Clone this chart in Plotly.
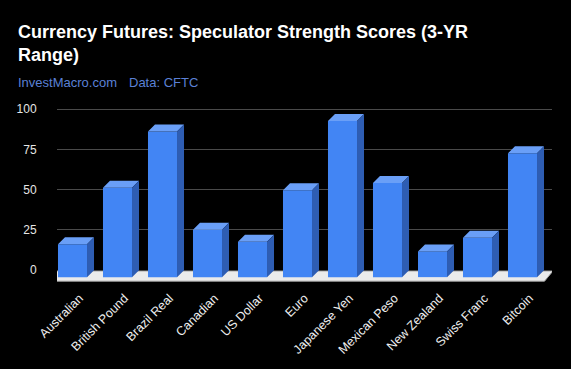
import plotly.graph_objects as go

categories = ["Australian", "British Pound", "Brazil Real", "Canadian", "US Dollar", "Euro",
              "Japanese Yen", "Mexican Peso", "New Zealand", "Swiss Franc", "Bitcoin"]
scores = [20.5, 55.5, 90.5, 29.5, 22, 54, 97, 58.5, 16, 24.5, 77]
y_ticks = [0, 25, 50, 75, 100]

W, H = 571, 369
ML, MR, MT, MB = 57, 19, 106, 86
Y_RANGE = [-8, 102]
X_RANGE = [-0.5, len(categories) - 0.5]
plot_w = W - ML - MR
plot_h = H - MT - MB
px_per_cat = plot_w / (X_RANGE[1] - X_RANGE[0])
px_per_unit = plot_h / (Y_RANGE[1] - Y_RANGE[0])

# 3D depth offsets (in data units)
depth_px = 7
dx = depth_px / px_per_cat
dy = depth_px / px_per_unit
bw = 0.645

FRONT = "#4285f4"
TOP = "#6a9ff7"
SIDE = "#2e5db3"

idx = list(range(len(categories)))

fig = go.Figure()

# front faces
fig.add_trace(go.Bar(
    x=idx, y=scores, base=-dy, width=bw, offset=-bw / 2 - dx,
    marker=dict(color=FRONT, line=dict(width=0)), hoverinfo="skip", showlegend=False,
))

# top faces and side faces
tx, ty, sx, sy = [], [], [], []
for c, v in zip(idx, scores):
    l, r = c - bw / 2, c + bw / 2
    tx += [l - dx, r - dx, r, l, l - dx, None]
    ty += [v - dy, v - dy, v, v, v - dy, None]
    sx += [r - dx, r, r, r - dx, r - dx, None]
    sy += [v - dy, v, 0, -dy, v - dy, None]
fig.add_trace(go.Scatter(x=tx, y=ty, mode="lines", fill="toself", fillcolor=TOP,
                         line=dict(width=0, color=TOP), hoverinfo="skip", showlegend=False))
fig.add_trace(go.Scatter(x=sx, y=sy, mode="lines", fill="toself", fillcolor=SIDE,
                         line=dict(width=0, color=SIDE), hoverinfo="skip", showlegend=False))

# floor slab
fdx = 8.5 / px_per_cat
fy_back = -0.5
fy_front = -6.9
xl = X_RANGE[0] - 2 / px_per_cat
xr = X_RANGE[1] + 1 / px_per_cat
floor_path = (f"M {xl} {fy_back} L {xr} {fy_back} L {xr - fdx} {fy_front} "
              f"L {xl - fdx} {fy_front} Z")
fig.add_shape(type="path", path=floor_path, xref="x", yref="y", layer="below",
              fillcolor="#ebebeb", line=dict(color="#9a9a9a", width=1))

def px_to_paper_x(p):
    return (p - ML) / plot_w

def px_to_paper_y(p):
    return (H - MB - p) / plot_h

fig.add_annotation(
    text="<b>Currency Futures: Speculator Strength Scores (3-YR<br>Range)</b>",
    xref="paper", yref="paper", x=px_to_paper_x(16), y=px_to_paper_y(20),
    xanchor="left", yanchor="top", align="left", showarrow=False,
    font=dict(family="Liberation Sans, Arial, sans-serif", size=18, color="#ffffff"),
)
fig.add_annotation(
    text="InvestMacro.com", xref="paper", yref="paper",
    x=px_to_paper_x(16), y=px_to_paper_y(73), xanchor="left", yanchor="top",
    showarrow=False,
    font=dict(family="Liberation Sans, Arial, sans-serif", size=13, color="#5b80d6"),
)
fig.add_annotation(
    text="Data: CFTC", xref="paper", yref="paper",
    x=px_to_paper_x(127), y=px_to_paper_y(73), xanchor="left", yanchor="top",
    showarrow=False,
    font=dict(family="Liberation Sans, Arial, sans-serif", size=13, color="#5b80d6"),
)

fig.update_layout(
    width=W, height=H,
    margin=dict(l=ML, r=MR, t=MT, b=MB),
    paper_bgcolor="#000000", plot_bgcolor="#000000",
    barmode="overlay",
    font=dict(family="Liberation Sans, Arial, sans-serif", color="#e6e6e6"),
    xaxis=dict(range=X_RANGE, tickvals=idx, ticktext=categories, tickangle=-45,
               showgrid=False, zeroline=False, showline=False,
               ticks="outside", ticklen=2, tickcolor="rgba(0,0,0,0)",
               tickfont=dict(size=12.5, color="#eeeeee"), fixedrange=True),
    yaxis=dict(range=Y_RANGE, tickvals=y_ticks, showgrid=True, gridcolor="#4a4a4a",
               gridwidth=1, zeroline=False, showline=False,
               ticks="outside", ticklen=17, tickcolor="rgba(0,0,0,0)",
               tickfont=dict(size=12, color="#e6e6e6"), fixedrange=True),
)

fig.write_html("out.html")
